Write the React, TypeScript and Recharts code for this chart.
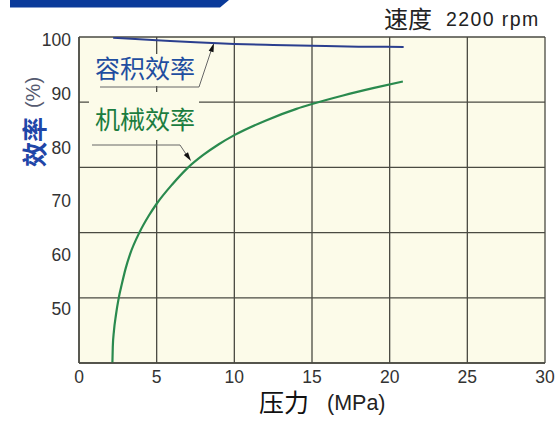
import React from "react";
import { LineChart, Line, XAxis, YAxis, CartesianGrid, Customized } from "recharts";

const pressureTicks = [0, 5, 10, 15, 20, 25, 30];
const efficiencyTicks = [50, 60, 70, 80, 90, 100];
const volumetricPressure = [2.2, 5, 7.5, 10, 12.5, 15, 18, 20.9];
const volumetricEfficiency = [100.45, 100.0, 99.6, 99.3, 99.1, 98.95, 98.8, 98.75];
const mechanicalPressure = [2.15, 2.175, 2.25, 2.38, 2.55, 2.78, 3.0, 3.3, 3.9, 4.5, 5, 6, 7, 8, 9, 10, 12, 14, 15, 17, 19, 20.85];
const mechanicalEfficiency = [39.8, 42.8, 45.8, 48.8, 51.8, 54.8, 57.4, 60.2, 64.2, 67.3, 69.5, 73.1, 76.2, 78.6, 80.6, 82.3, 85.0, 87.2, 88.1, 89.7, 91.1, 92.3];

const volumetricData = volumetricPressure.map((p, i) => ({ p, v: volumetricEfficiency[i] }));
const mechanicalData = mechanicalPressure.map((p, i) => ({ p, m: mechanicalEfficiency[i] }));

const BG = "#fcfbe9";
const GRID = "#4a4a42";
const LATIN = "'Liberation Sans', Arial, sans-serif";
const CJK = "'Noto Sans CJK SC', sans-serif";

const Decorations = () => (
  <g>
    {/* banner */}
    <polygon points="10,0 229,0 220,7.5 10,7.5" fill="#0a3a9a" />
    {/* title */}
    <text x={384} y={28} fontFamily={CJK} fontSize={24} fill="#222">速度</text>
    <text x={446} y={26} fontFamily={LATIN} fontSize={19.5} letterSpacing={1.4} fill="#222">2200 rpm</text>
    {/* y label */}
    <g transform="translate(33,122) rotate(-90)">
      <text x={0} y={0} textAnchor="middle" dominantBaseline="central">
        <tspan fontFamily={CJK} fontSize={25} fontWeight={600} fill="#1f46a8">效率</tspan>
        <tspan fontFamily={LATIN} fontSize={20} fill="#555a70" dx={9}>(%)</tspan>
      </text>
    </g>
    {/* x label */}
    <text x={259} y={412} fontFamily={CJK} fontSize={25} fill="#111">压力</text>
    <text x={327} y={410} fontFamily={LATIN} fontSize={21.5} fill="#222">(MPa)</text>
    {/* label boxes */}
    <rect x={89} y={54} width={111} height={32} fill={BG} />
    <rect x={89} y={92} width={110} height={48} fill={BG} />
    {/* volumetric label + callout */}
    <text x={95} y={78} fontFamily={CJK} fontSize={25} fill="#1f4ea0">容积效率</text>
    <polyline points="100,87 199,87 211,51" fill="none" stroke="#666" strokeWidth={1} />
    <polygon points="214,43 213.5,52.3 208.7,50.7" fill="#111" />
    {/* mechanical label + callout */}
    <text x={95} y={129} fontFamily={CJK} fontSize={25} fill="#1b7d40">机械效率</text>
    <polyline points="92,145 180,145 186,154" fill="none" stroke="#666" strokeWidth={1} />
    <polygon points="191,161 188,152.2 183.8,155" fill="#111" />
  </g>
);

export default function App() {
  return (
    <div style={{ position: "absolute", left: 0, top: 0, width: 555, height: 425, background: "#fff" }}>
      <LineChart width={555} height={425} margin={{ top: 37, right: 10, bottom: 0, left: 0 }}>
        <CartesianGrid
          fill={BG}
          stroke={GRID}
          strokeWidth={1.3}
          horizontalCoordinatesGenerator={({ offset }: any) =>
            [0, 1, 2, 3, 4, 5].map((i) => offset.top + (offset.height * i) / 5)
          }
        />
        <XAxis
          type="number"
          dataKey="p"
          domain={[0, 30]}
          ticks={pressureTicks}
          interval={0}
          allowDataOverflow
          height={62}
          tickLine={false}
          axisLine={{ stroke: GRID, strokeWidth: 1.5 }}
          tick={{ fontFamily: LATIN, fontSize: 17.5, fill: "#333" }}
        />
        <YAxis
          type="number"
          domain={[39.8, 100.6]}
          ticks={efficiencyTicks}
          interval={0}
          allowDataOverflow
          width={79}
          tickLine={false}
          axisLine={{ stroke: GRID, strokeWidth: 1.5 }}
          tick={{ fontFamily: LATIN, fontSize: 17.5, fill: "#333" }}
        />
        <Customized component={Decorations} />
        <Line
          data={volumetricData}
          dataKey="v"
          type="monotone"
          stroke="#2b3f8e"
          strokeWidth={2}
          dot={false}
          isAnimationActive={false}
        />
        <Line
          data={mechanicalData}
          dataKey="m"
          type="monotone"
          stroke="#2a8a4e"
          strokeWidth={2.2}
          dot={false}
          isAnimationActive={false}
        />
      </LineChart>
    </div>
  );
}
